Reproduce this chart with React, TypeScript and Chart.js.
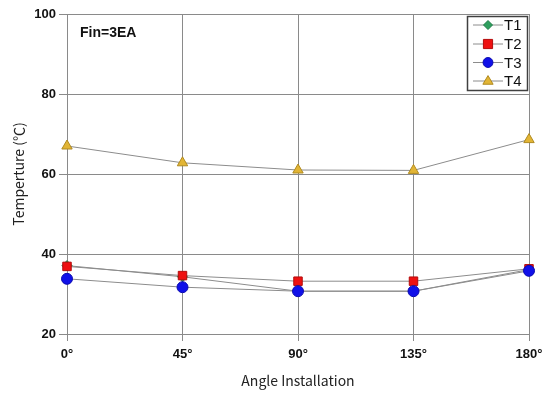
import React, { useEffect, useRef } from "react";
import { Chart, registerables } from "chart.js";
Chart.register(...registerables);

const categories = ["0°", "45°", "90°", "135°", "180°"];
const seriesNames = ["T1", "T2", "T3", "T4"];
const t1 = [37.1, 34.3, 30.7, 30.7, 36.1];
const t2 = [36.9, 34.6, 33.2, 33.2, 36.3];
const t3 = [33.8, 31.7, 30.7, 30.7, 35.8];
const t4 = [67, 62.8, 61, 60.9, 68.6];
const yMin = 20;
const yMax = 100;
const yStep = 20;
const annotation = "Fin=3EA";
const xTitle = "Angle Installation";
const yTitle = "Temperture (℃)";

const markerFill = ["#2e9e5e", "#ee1111", "#1010e8", "#e2b535"];
const markerBorder = ["#1e7e46", "#b40c0c", "#0c0cb0", "#b08a20"];
const markerStyle = ["rectRot", "rect", "circle", "triangle"];
const markerRadius = [5, 6, 5.5, 6];
const LINE = "#8c8c8c";
const GRID = "#8a8a8a";
const FONT = "'Liberation Sans', Arial, sans-serif";
const TFONT = "'Noto Sans CJK KR', 'Noto Sans', sans-serif";

function drawPointLocal(ctx: any, style: string, r: number, x: number, y: number) {
  ctx.beginPath();
  if (style === "circle") {
    ctx.arc(x, y, r, 0, Math.PI * 2);
  } else if (style === "rect") {
    ctx.rect(x - r * 0.85, y - r * 0.85, r * 1.7, r * 1.7);
  } else if (style === "rectRot") {
    ctx.moveTo(x, y - r);
    ctx.lineTo(x + r, y);
    ctx.lineTo(x, y + r);
    ctx.lineTo(x - r, y);
    ctx.closePath();
  } else if (style === "triangle") {
    ctx.moveTo(x, y - r);
    ctx.lineTo(x + r * 0.95, y + r * 0.6);
    ctx.lineTo(x - r * 0.95, y + r * 0.6);
    ctx.closePath();
  }
  ctx.fill();
  ctx.stroke();
}

const overlayPlugin = {
  id: "overlay",
  afterDraw(chart: any) {
    const ctx = chart.ctx;
    const ca = chart.chartArea;
    ctx.save();
    ctx.fillStyle = "#111";
    ctx.font = `bold 14px ${FONT}`;
    ctx.textAlign = "left";
    ctx.textBaseline = "middle";
    ctx.fillText(annotation, ca.left + 13, ca.top + 19);
    const bw = 60, bh = 74;
    const bx = ca.right - 62, by = ca.top + 2;
    ctx.fillStyle = "#fff";
    ctx.fillRect(bx, by, bw, bh);
    ctx.strokeStyle = "#404040";
    ctx.lineWidth = 1.5;
    ctx.strokeRect(bx + 0.5, by + 0.5, bw, bh);
    const rowY = [25, 44, 62.5, 81];
    chart.data.datasets.forEach((ds: any, i: number) => {
      const y = rowY[i];
      ctx.strokeStyle = LINE;
      ctx.lineWidth = 1;
      ctx.beginPath();
      ctx.moveTo(bx + 6, y);
      ctx.lineTo(bx + 36, y);
      ctx.stroke();
      ctx.fillStyle = ds.pointBackgroundColor;
      ctx.strokeStyle = ds.pointBorderColor;
      ctx.lineWidth = 1;
      drawPointLocal(ctx, ds.pointStyle, ds.pointRadius * 0.9, bx + 21, y);
      ctx.fillStyle = "#111";
      ctx.font = `15px ${FONT}`;
      ctx.textAlign = "left";
      ctx.textBaseline = "middle";
      ctx.fillText(ds.label, bx + 37, y + 1);
    });
    ctx.restore();
  },
};

export default function App() {
  const ref = useRef<HTMLCanvasElement>(null);
  useEffect(() => {
    const values = [t1, t2, t3, t4];
    const chart = new Chart(ref.current!, {
      type: "line",
      data: {
        labels: categories,
        datasets: values.map((v, i) => ({
          label: seriesNames[i],
          data: v,
          borderColor: LINE,
          borderWidth: 1,
          pointStyle: markerStyle[i],
          pointRadius: markerRadius[i],
          pointBackgroundColor: markerFill[i],
          pointBorderColor: markerBorder[i],
          pointBorderWidth: 1,
          order: 4 - i,
          tension: 0,
          fill: false,
        })),
      },
      options: {
        animation: false,
        responsive: false,
        maintainAspectRatio: false,
        layout: { padding: { left: 0, right: 23, top: 14, bottom: 0 } },
        plugins: {
          legend: { display: false },
          tooltip: { enabled: false },
        },
        scales: {
          x: {
            offset: false,
            grid: { color: GRID, lineWidth: 1, tickLength: 7, drawTicks: true },
            border: { color: GRID, width: 1 },
            ticks: {
              color: "#111",
              font: { family: FONT, size: 13, weight: "bold" },
              padding: 6,
              maxRotation: 0,
              autoSkip: false,
            },
            title: {
              display: true,
              text: xTitle,
              color: "#222",
              font: { family: TFONT, size: 14 },
              padding: 4,
            },
            afterFit(scale: any) {
              scale.height = 59;
            },
          },
          y: {
            min: yMin,
            max: yMax,
            grid: { color: GRID, lineWidth: 1, tickLength: 8 },
            border: { color: GRID, width: 1 },
            ticks: {
              stepSize: yStep,
              color: "#111",
              font: { family: FONT, size: 13, weight: "bold" },
              padding: 3,
            },
            title: {
              display: true,
              text: yTitle,
              color: "#222",
              font: { family: TFONT, size: 14 },
              padding: 10,
            },
            afterFit(scale: any) {
              scale.width = 67;
            },
          },
        },
      },
      plugins: [
        {
          id: "rightBorder",
          beforeDatasetsDraw(chart: any) {
            const { ctx, chartArea: ca } = chart;
            ctx.save();
            ctx.strokeStyle = GRID;
            ctx.lineWidth = 1;
            ctx.beginPath();
            ctx.moveTo(Math.round(ca.right) + 0.5, ca.top);
            ctx.lineTo(Math.round(ca.right) + 0.5, ca.bottom);
            ctx.moveTo(ca.left, Math.round(ca.top) + 0.5);
            ctx.lineTo(ca.right, Math.round(ca.top) + 0.5);
            ctx.stroke();
            ctx.restore();
          },
        },
        overlayPlugin,
      ],
    } as any);
    return () => chart.destroy();
  }, []);
  return (
    <div style={{ position: "absolute", left: 0, top: 0, width: 552, height: 393, background: "#fff" }}>
      <canvas ref={ref} width={552} height={393} style={{ width: 552, height: 393 }} />
    </div>
  );
}
